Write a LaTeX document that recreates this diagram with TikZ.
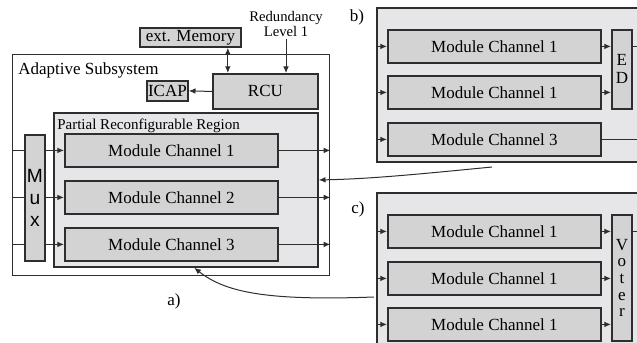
\documentclass[tikz,border=0pt]{standalone}
\usepackage{fontspec}
\setmainfont{Liberation Serif}
\newfontfamily\muxfont{Liberation Sans}
\usetikzlibrary{arrows.meta}
\definecolor{modgray}{HTML}{D3D3D3}
\definecolor{prrgray}{HTML}{E6E6E8}
\definecolor{edgegray}{HTML}{2E2E2E}
\tikzset{
  flowarrow/.style={-{Latex[length=4pt,width=3.4pt]}, line width=0.6pt, draw=edgegray},
  flowline/.style={line width=0.6pt, draw=edgegray},
  bothways/.style={{Latex[length=4pt,width=3.4pt]}-{Latex[length=4pt,width=3.4pt]},
    line width=0.6pt, draw=edgegray},
  framebox/.style={draw=edgegray, line width=0.8pt, fill=white, anchor=north west, inner sep=0pt},
  regionbox/.style={draw=edgegray, line width=1.1pt, fill=prrgray, anchor=north west, inner sep=0pt},
  unitbox/.style={draw=edgegray, line width=1.1pt, fill=modgray, anchor=north west,
    inner sep=0pt, align=center, font=\fontsize{10.2}{12}\selectfont},
  channel/.style={unitbox, minimum width=127.8pt, minimum height=19.8pt},
  stackbox/.style={unitbox, minimum width=12pt},
  caption/.style={inner sep=0pt, font=\fontsize{10.2}{12}\selectfont}
}
\begin{document}
\begin{tikzpicture}[x=0.6pt,y=-0.6pt]
        \useasboundingbox (0,0) rectangle (637,342);
        \clip (0,0) rectangle (637,342);

        % a) adaptive subsystem
        \node[framebox, minimum width=190.2pt, minimum height=132.6pt] (asys) at (12,54) {};
        \node[caption, anchor=base west] (asyslbl) at (18,74) {Adaptive Subsystem};
        \node[unitbox, minimum width=60.6pt, minimum height=11.4pt] (extmem) at (139,27) {ext. Memory};
        \node[unitbox, minimum width=63pt, minimum height=21pt] (rcu) at (212,73) {RCU};
        \node[unitbox, minimum width=24.6pt, minimum height=12pt] (icap) at (146,80) {ICAP};
        \node[inner sep=1pt, align=center, font=\fontsize{8.8}{9}\selectfont] (redlvl) at (286,24) {Redundancy\\Level 1};
        \node[regionbox, minimum width=158.4pt, minimum height=92.4pt] (prr) at (53,112) {};
        \node[caption, anchor=base west, font=\fontsize{9}{10}\selectfont] (prrlbl) at (57,129) {Partial Reconfigurable Region};
        \node[channel] (mc1) at (64,133) {Module Channel 1};
        \node[channel] (mc2) at (64,180) {Module Channel 2};
        \node[channel] (mc3) at (64,227) {Module Channel 3};
        \node[stackbox, minimum height=75.6pt, font=\muxfont\fontsize{11.5}{13.2}\selectfont] (mux) at (24,134) {M\\u\\x};
        \node[caption, anchor=base] (lbla) at (174,305) {a)};

        \draw[flowarrow] (rcu.west) -- (icap.east);
        \coordinate (memport) at ([xshift=-8.4pt]extmem.south east);
        \draw[bothways] (memport) -- (memport |- rcu.north);
        \draw[flowarrow] (redlvl.south) -- (redlvl.south |- rcu.north);
        \draw[flowline] (mc1.west -| asys.west) -- (mc1.west -| mux.west);
        \draw[flowline] (mc2.west -| asys.west) -- (mc2.west -| mux.west);
        \draw[flowline] (mc3.west -| asys.west) -- (mc3.west -| mux.west);
        \draw[flowarrow] (mc1.west -| mux.east) -- (mc1.west);
        \draw[flowarrow] (mc2.west -| mux.east) -- (mc2.west);
        \draw[flowarrow] (mc3.west -| mux.east) -- (mc3.west);
        \draw[flowarrow] (mc1.east) -- (mc1.east -| asys.east);
        \draw[flowarrow] (mc2.east) -- (mc2.east -| asys.east);
        \draw[flowarrow] (mc3.east) -- (mc3.east -| asys.east);

        % b) duplication with error detection
        \node[regionbox, minimum width=164.4pt, minimum height=92.4pt] (bbox) at (376,7) {};
        \node[caption, anchor=base] (lblb) at (357,21) {b)};
        \node[channel] (bm1) at (387,29) {Module Channel 1};
        \node[channel] (bm2) at (387,75) {Module Channel 1};
        \node[channel] (bm3) at (387,122) {Module Channel 3};
        \node[stackbox, minimum height=47.4pt, font=\fontsize{10.2}{10.8}\selectfont] (ed) at (611,29) {E\\D};

        \draw[flowarrow] (bm1.west -| bbox.west) -- (bm1.west);
        \draw[flowarrow] (bm2.west -| bbox.west) -- (bm2.west);
        \draw[flowarrow] (bm3.west -| bbox.west) -- (bm3.west);
        \draw[flowarrow] (bm1.east) -- (bm1.east -| ed.west);
        \draw[flowarrow] (bm2.east) -- (bm2.east -| ed.west);
        \draw[flowline] (bm1.east -| ed.east) -- (bm1.east -| bbox.east);
        \draw[flowline] (bm3.east) -- (bm3.east -| bbox.east);

        % c) triple modular redundancy
        \node[regionbox, minimum width=164.4pt, minimum height=100.8pt] (cbox) at (376,192) {};
        \node[caption, anchor=base] (lblc) at (358,213) {c)};
        \node[channel] (tm1) at (387,214) {Module Channel 1};
        \node[channel] (tm2) at (387,261) {Module Channel 1};
        \node[channel] (tm3) at (387,307) {Module Channel 1};
        \node[stackbox, minimum height=75.6pt, font=\fontsize{10.2}{10}\selectfont] (voter) at (611,214) {V\\o\\t\\e\\r};

        \draw[flowarrow] (tm1.west -| cbox.west) -- (tm1.west);
        \draw[flowarrow] (tm2.west -| cbox.west) -- (tm2.west);
        \draw[flowarrow] (tm3.west -| cbox.west) -- (tm3.west);
        \draw[flowarrow] (tm1.east) -- (tm1.east -| voter.west);
        \draw[flowarrow] (tm2.east) -- (tm2.east -| voter.west);
        \draw[flowarrow] (tm3.east) -- (tm3.east -| voter.west);
        \draw[flowline] (tm1.east -| voter.east) -- (tm1.east -| cbox.east);

        % swapping the region contents
        \coordinate (bfrom) at (492,167);
        \coordinate (cfrom) at (374,297);
        \draw[flowarrow] (bfrom) .. controls (420,174) and (370,179) .. ([yshift=6pt]prr.east);
        \draw[flowarrow] (cfrom) .. controls (265,301) and (225,292) .. ([xshift=5pt]prr.south);
    \end{tikzpicture}
\end{document}
